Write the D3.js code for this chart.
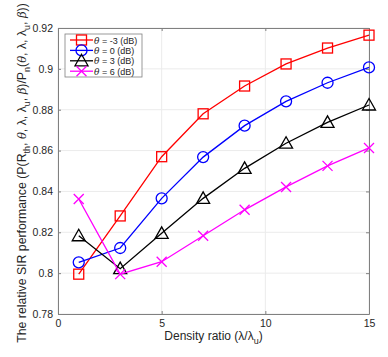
<!DOCTYPE html>
<html lang="en">
<head>
<meta charset="UTF-8">
<title>Relative SIR performance</title>
<style>
  body { margin: 0; background: #fff; }
  svg { display: block; font-family: "Liberation Sans", Arial, sans-serif; }
</style>
<script src="https://cdn.jsdelivr.net/npm/d3@7"></script>
</head>
<body>
<svg id="chart" width="388" height="357"></svg>
<script>
// data
const xs = [1, 3, 5, 7, 9, 11, 13, 15];
const thetaM3 = [0.7995, 0.828, 0.857, 0.878, 0.8916, 0.9024, 0.9102, 0.9165];
const theta0 = [0.8053, 0.8123, 0.8366, 0.8568, 0.8722, 0.8841, 0.8932, 0.9007];
const theta3 = [0.8183, 0.8022, 0.8195, 0.8366, 0.8513, 0.8636, 0.8738, 0.8823];
const theta6 = [0.8363, 0.7995, 0.8056, 0.8183, 0.831, 0.8422, 0.8525, 0.8613];
const labels = ["-3", "0", "3", "6"];
const xTicks = [0, 5, 10, 15];
const yTicks = [0.78, 0.8, 0.82, 0.84, 0.86, 0.88, 0.9, 0.92];

const series = [
  { name: labels[0], values: thetaM3, color: "#ff0000", marker: "square" },
  { name: labels[1], values: theta0, color: "#0000ff", marker: "circle" },
  { name: labels[2], values: theta3, color: "#000000", marker: "triangle" },
  { name: labels[3], values: theta6, color: "#ff00ff", marker: "x" }
];

const m = { left: 58, right: 19, top: 28, bottom: 43 };
const W = 388, H = 357;
const svg = d3.select("#chart");

const x = d3.scaleLinear().domain([0, 15]).range([m.left, W - m.right]);
const y = d3.scaleLinear().domain([0.78, 0.92]).range([H - m.bottom, m.top]);

// grid
svg.append("g").selectAll("line.gx").data(xTicks).enter().append("line")
  .attr("x1", d => x(d)).attr("x2", d => x(d))
  .attr("y1", y(0.78)).attr("y2", y(0.92))
  .attr("stroke", "#ebebeb").attr("stroke-width", 1);
svg.append("g").selectAll("line.gy").data(yTicks).enter().append("line")
  .attr("y1", d => y(d)).attr("y2", d => y(d))
  .attr("x1", x(0)).attr("x2", x(15))
  .attr("stroke", "#ebebeb").attr("stroke-width", 1);

// axes
const axColor = "#262626";
const xAxis = svg.append("g").attr("transform", `translate(0,${y(0.78)})`)
  .call(d3.axisBottom(x).tickValues(xTicks).tickSizeInner(-3).tickSizeOuter(0).tickPadding(6).tickFormat(d3.format("d")));
const yAxis = svg.append("g").attr("transform", `translate(${x(0)},0)`)
  .call(d3.axisLeft(y).tickValues(yTicks).tickSizeInner(-3).tickSizeOuter(0).tickPadding(5).tickFormat(d => d3.format("")(+d.toFixed(2))));
const xTop = svg.append("g").attr("transform", `translate(0,${y(0.92)})`)
  .call(d3.axisTop(x).tickValues(xTicks).tickSizeInner(-3).tickSizeOuter(0).tickFormat(""));
const yRight = svg.append("g").attr("transform", `translate(${x(15)},0)`)
  .call(d3.axisRight(y).tickValues(yTicks).tickSizeInner(-3).tickSizeOuter(0).tickFormat(""));
[xAxis, yAxis, xTop, yRight].forEach(g => {
  g.selectAll("path, line").attr("stroke", "#808080");
  g.selectAll("text").attr("fill", axColor).style("font-size", "10.5px");
});

// lines
const line = d3.line().x((d, i) => x(xs[i])).y(d => y(d));

function drawMarker(g, type, cx, cy, color) {
  if (type === "square") {
    g.append("rect").attr("x", cx - 5).attr("y", cy - 5).attr("width", 10).attr("height", 10)
      .attr("fill", "none").attr("stroke", color).attr("stroke-width", 1.3);
  } else if (type === "circle") {
    g.append("circle").attr("cx", cx).attr("cy", cy).attr("r", 5.5)
      .attr("fill", "none").attr("stroke", color).attr("stroke-width", 1.3);
  } else if (type === "triangle") {
    g.append("path").attr("d", `M${cx},${cy - 6.5}L${cx + 6.5},${cy + 5}L${cx - 6.5},${cy + 5}Z`)
      .attr("fill", "none").attr("stroke", color).attr("stroke-width", 1.3);
  } else {
    g.append("path").attr("d", `M${cx - 5},${cy - 5}L${cx + 5},${cy + 5}M${cx - 5},${cy + 5}L${cx + 5},${cy - 5}`)
      .attr("fill", "none").attr("stroke", color).attr("stroke-width", 1.3);
  }
}

series.forEach(s => {
  const g = svg.append("g");
  g.append("path").datum(s.values).attr("d", line)
    .attr("fill", "none").attr("stroke", s.color).attr("stroke-width", 1.3);
  s.values.forEach((v, i) => drawMarker(g, s.marker, x(xs[i]), y(v), s.color));
});

// legend
const lg = svg.append("g").attr("transform", "translate(65,34)");
lg.append("rect").attr("width", 77).attr("height", 43)
  .attr("fill", "#fff").attr("stroke", "#808080").attr("stroke-width", 0.8);
series.forEach((s, i) => {
  const ly = 6 + i * 10.4;
  lg.append("line").attr("x1", 5).attr("x2", 28).attr("y1", ly).attr("y2", ly)
    .attr("stroke", s.color).attr("stroke-width", 1.3);
  drawMarker(lg, s.marker, 16.5, ly, s.color);
  const t = lg.append("text").attr("x", 29).attr("y", ly + 3.5)
    .attr("fill", axColor).style("font-size", "9px");
  t.append("tspan").attr("font-style", "italic").attr("font-family", "DejaVu Serif, serif").text("θ");
  t.append("tspan").text(` = ${s.name} (dB)`);
});

// axis labels
const xl = svg.append("text").attr("x", (x(0) + x(15)) / 2).attr("y", 340)
  .attr("text-anchor", "middle").attr("fill", axColor).style("font-size", "12px");
xl.append("tspan").text("Density ratio (λ/λ");
xl.append("tspan").attr("dy", 4).style("font-size", "9px").text("u");
xl.append("tspan").attr("dy", -4).text(")");

const yl = svg.append("text").attr("transform", `translate(26,173) rotate(-90)`)
  .attr("text-anchor", "middle").attr("fill", axColor).style("font-size", "12.3px");
const parts = [
  ["The relative SIR performance (P(R", 0], ["th", 1], [", ", 0], ["θ", 2], [", λ, λ", 0], ["u", 1],
  [", ", 0], ["β", 2], [")/P", 0], ["n", 1], ["(", 0], ["θ", 2], [", λ, λ", 0], ["u", 1], [", ", 0], ["β", 2], ["))", 0]
];
let shifted = false;
parts.forEach(([txt, kind]) => {
  const sp = yl.append("tspan").text(txt);
  if (kind === 1) { sp.attr("dy", 4).style("font-size", "9px"); shifted = true; }
  else if (shifted) { sp.attr("dy", -4); shifted = false; }
  if (kind === 2) sp.attr("font-style", "italic").attr("font-family", "DejaVu Serif, serif").style("font-size", "11.5px");
});
</script>
</body>
</html>
